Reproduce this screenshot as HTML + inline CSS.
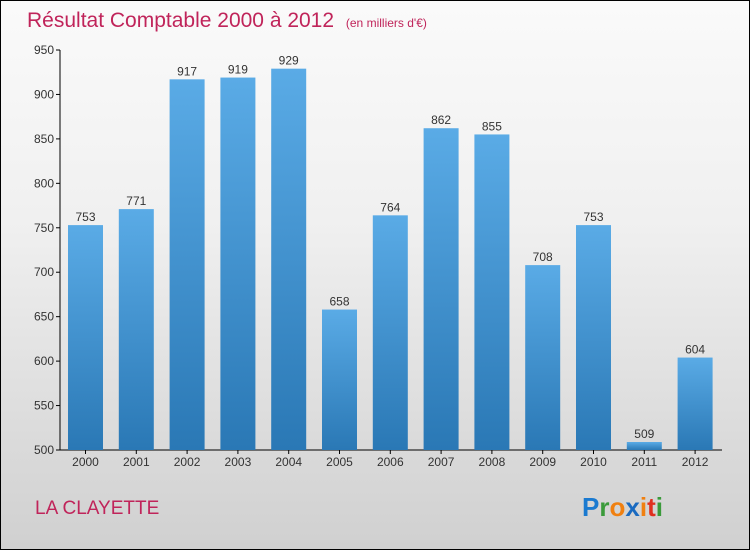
<!DOCTYPE html>
<html><head><meta charset="utf-8"><style>
body{margin:0}
#c{width:750px;height:550px;position:relative;overflow:hidden;box-sizing:border-box;border:1px solid #000;background:linear-gradient(#fafafa,#f0f0f0 40%,#d0d0d0);font-family:"Liberation Sans",sans-serif}
</style></head><body>
<div id="c">
<svg width="750" height="550" style="position:absolute;left:-1px;top:-1px">
<defs><linearGradient id="g" x1="0" y1="0" x2="0" y2="1"><stop offset="0" stop-color="#5aabe6"/><stop offset="1" stop-color="#2a78b5"/></linearGradient></defs>
<text x="27" y="27" font-size="21" fill="#c0245a">Résultat Comptable 2000 à 2012 <tspan font-size="12" dx="6">(en milliers d'€)</tspan></text>
<g id="plot"></g>
<text x="35" y="514" font-size="19" fill="#c0245a">LA CLAYETTE</text>
<text x="582" y="516" font-size="26" font-weight="bold"><tspan fill="#1a7ad0">P</tspan><tspan fill="#3a9a3a">r</tspan><tspan fill="#f08010">o</tspan><tspan fill="#1a6ac0">x</tspan><tspan fill="#f08010">i</tspan><tspan fill="#e03020">t</tspan><tspan fill="#3a9a3a">i</tspan></text>
</svg></div>
<script>
const years=["2000","2001","2002","2003","2004","2005","2006","2007","2008","2009","2010","2011","2012"];
const values=[753,771,917,919,929,658,764,862,855,708,753,509,604];
const yTicks=[500,550,600,650,700,750,800,850,900,950];
const NS="http://www.w3.org/2000/svg",p=document.getElementById('plot');
const y=v=>450-(v-500)*400/450, x=i=>85.5+i*50.8;
function mk(t,a,txt){const e=document.createElementNS(NS,t);for(const k in a)e.setAttribute(k,a[k]);if(txt!=null)e.textContent=txt;p.appendChild(e);return e;}
let e=mk('line',{x1:60,y1:50,x2:60,y2:450,stroke:'#000'});

e=mk('line',{x1:60,y1:450,x2:722,y2:450,stroke:'#000'});

yTicks.forEach(t=>{mk('line',{x1:56,y1:y(t),x2:60,y2:y(t),stroke:'#000'});
e=mk('text',{x:54,y:y(t)+4,'font-size':12,fill:'#333','text-anchor':'end'},t);
});
years.forEach((yr,i)=>{const v=values[i];
e=mk('rect',{x:x(i)-17.5,y:y(v),width:35,height:450-y(v),fill:'url(#g)'});

mk('line',{x1:x(i),y1:450,x2:x(i),y2:454,stroke:'#000'});
e=mk('text',{x:x(i),y:y(v)-4,'font-size':12,fill:'#333','text-anchor':'middle'},v);

e=mk('text',{x:x(i),y:466,'font-size':12,fill:'#333','text-anchor':'middle'},yr);
});
</script></body></html>
